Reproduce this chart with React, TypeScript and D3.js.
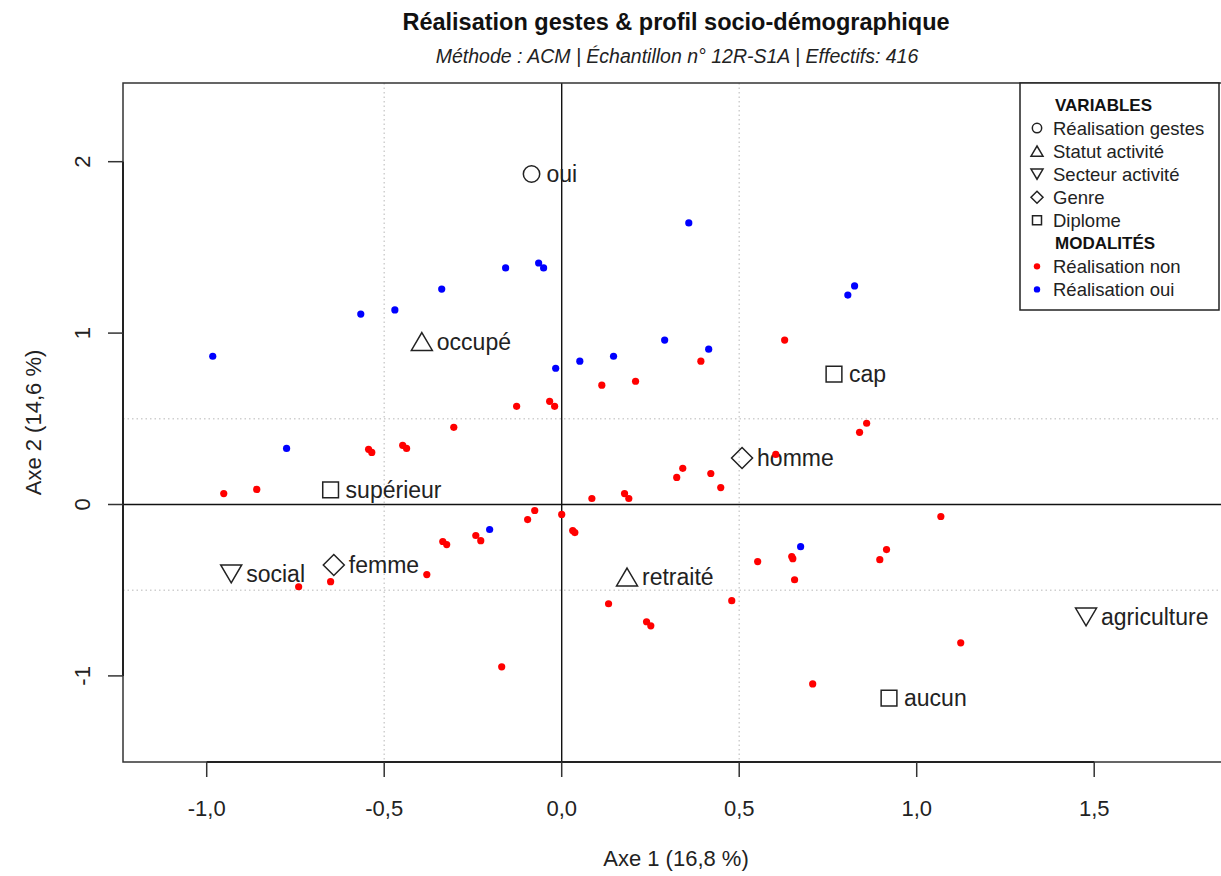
import React from "react";
import * as d3 from "d3";

// ---------- Data ----------
const title = "Réalisation gestes & profil socio-démographique";
const subtitle = "Méthode : ACM | Échantillon n° 12R-S1A | Effectifs: 416";
const xAxisTitle = "Axe 1 (16,8 %)";
const yAxisTitle = "Axe 2 (14,6 %)";

const xTicks = [-1.0, -0.5, 0.0, 0.5, 1.0, 1.5];
const yTicks = [-1, 0, 1, 2];
const xGrid = [-0.5, 0.5];
const yGrid = [-0.5, 0.5];

const variableNames = ["Réalisation gestes", "Statut activité", "Secteur activité", "Genre", "Diplome"];
const variableShapes = ["circle", "triangle", "triangleDown", "diamond", "square"];

const modalityLabels = ["oui", "occupé", "retraité", "social", "agriculture", "homme", "femme", "supérieur", "cap", "aucun"];
const modalityVariable = [0, 1, 1, 2, 2, 3, 3, 4, 4, 4];
const modalityX = [-0.085, -0.394, 0.184, -0.931, 1.477, 0.508, -0.642, -0.651, 0.767, 0.922];
const modalityY = [1.928, 0.951, -0.423, -0.405, -0.656, 0.271, -0.353, 0.085, 0.761, -1.129];

const pointsNon: [number, number][] = [
  [0.628, 0.959], [0.392, 0.836], [0.208, 0.719], [0.113, 0.696], [-0.034, 0.602],
  [-0.020, 0.573], [-0.127, 0.573], [-0.304, 0.450], [-0.448, 0.345], [-0.437, 0.327],
  [-0.544, 0.322], [-0.535, 0.304], [-0.952, 0.064], [-0.859, 0.088], [0.859, 0.474],
  [0.839, 0.421], [0.603, 0.292], [0.341, 0.211], [0.324, 0.158], [0.420, 0.181],
  [0.448, 0.099], [0.085, 0.035], [0.177, 0.064], [0.189, 0.035], [0.0, -0.058],
  [0.031, -0.152], [0.037, -0.164], [-0.076, -0.035], [-0.096, -0.088], [1.068, -0.070],
  [-0.335, -0.216], [-0.324, -0.234], [-0.242, -0.181], [-0.228, -0.211], [-0.380, -0.409],
  [-0.651, -0.450], [-0.741, -0.480], [-0.169, -0.947], [0.552, -0.333], [0.648, -0.304],
  [0.651, -0.316], [0.656, -0.439], [0.915, -0.263], [0.896, -0.322], [0.132, -0.579],
  [0.479, -0.561], [0.239, -0.684], [0.251, -0.708], [1.124, -0.807], [0.707, -1.047],
];

const pointsOui: [number, number][] = [
  [0.358, 1.643], [-0.158, 1.380], [-0.065, 1.409], [-0.051, 1.380], [-0.338, 1.257],
  [-0.470, 1.135], [-0.566, 1.111], [0.825, 1.275], [0.806, 1.222], [-0.983, 0.865],
  [0.290, 0.959], [0.414, 0.906], [0.146, 0.865], [0.051, 0.836], [-0.017, 0.795],
  [-0.775, 0.327], [-0.203, -0.146], [0.673, -0.246],
];

const legendModalities = ["Réalisation non", "Réalisation oui"];
const legendColors = ["#ff0000", "#0000ff"];

// ---------- Layout ----------
const W = 1221;
const H = 876;
const M = { left: 123, right: 1229, top: 83, bottom: 762 };
const FONT = "'Liberation Sans', Arial, Helvetica, sans-serif";
const INK = "#222";

const xScale = d3.scaleLinear().domain([-1.2358, 1.8797]).range([M.left, M.right]);
const yScale = d3.scaleLinear().domain([-1.5023, 2.4591]).range([M.bottom, M.top]);

function shapePath(shape: string, s: number): string {
  // s = half size
  switch (shape) {
    case "triangle": {
      const h = s * 1.7;
      return `M0,${-h / 2}L${s},${h / 2}L${-s},${h / 2}Z`;
    }
    case "triangleDown": {
      const h = s * 1.7;
      return `M0,${h / 2}L${s},${-h / 2}L${-s},${-h / 2}Z`;
    }
    case "diamond":
      return `M0,${-s}L${s},0L0,${s}L${-s},0Z`;
    case "square": {
      const q = s * 0.75;
      return `M${-q},${-q}L${q},${-q}L${q},${q}L${-q},${q}Z`;
    }
    default:
      return "";
  }
}

function Symbol({ shape, x, y, s }: { shape: string; x: number; y: number; s: number }) {
  if (shape === "circle") {
    return <circle cx={x} cy={y} r={s * 0.78} fill="none" stroke={INK} strokeWidth={1.5} />;
  }
  return (
    <path d={shapePath(shape, s)} transform={`translate(${x},${y})`} fill="none" stroke={INK} strokeWidth={1.5} strokeLinejoin="miter" />
  );
}

export default function App() {
  const legX = 1020;
  const legY = 83;
  const legW = 199;
  const legH = 227;
  const rowY = (i: number) => legY + 22 + i * 23.05;

  return (
    <div style={{ position: "absolute", left: 0, top: 0, width: W, height: H, background: "#fff" }}>
      <svg width={W} height={H} viewBox={`0 0 ${W} ${H}`} style={{ display: "block", fontFamily: FONT }}>
        <defs>
          <clipPath id="plotClip">
            <rect x={M.left} y={M.top} width={M.right - M.left} height={M.bottom - M.top} />
          </clipPath>
        </defs>
        <rect x={0} y={0} width={W} height={H} fill="#fff" />

        {/* Titles */}
        <text x={676} y={30} textAnchor="middle" fontSize={23.5} fontWeight="bold" fill="#111">{title}</text>
        <text x={677} y={63} textAnchor="middle" fontSize={19.5} fontStyle="italic" fill={INK}>{subtitle}</text>

        <g clipPath="url(#plotClip)">
          {/* dotted grid */}
          {xGrid.map((v) => (
            <line key={"gx" + v} x1={xScale(v)} x2={xScale(v)} y1={M.top} y2={M.bottom} stroke="#cfcfcf" strokeWidth={1.5} strokeDasharray="1.5 3" />
          ))}
          {yGrid.map((v) => (
            <line key={"gy" + v} x1={M.left} x2={M.right} y1={yScale(v)} y2={yScale(v)} stroke="#cfcfcf" strokeWidth={1.5} strokeDasharray="1.5 3" />
          ))}
          {/* zero lines */}
          <line x1={xScale(0)} x2={xScale(0)} y1={M.top} y2={M.bottom} stroke="#111" strokeWidth={1.4} />
          <line x1={M.left} x2={M.right} y1={yScale(0)} y2={yScale(0)} stroke="#111" strokeWidth={1.4} />

          {/* modality symbols and labels */}
          {modalityLabels.map((lab, i) => {
            const cx = xScale(modalityX[i]);
            const cy = yScale(modalityY[i]);
            const shape = variableShapes[modalityVariable[i]];
            return (
              <g key={lab}>
                <Symbol shape={shape} x={cx} y={cy} s={10.5} />
                <text x={cx + 15} y={cy} dy="0.36em" fontSize={23} fill={INK}>{lab}</text>
              </g>
            );
          })}

          {/* individuals */}
          {pointsNon.map((p, i) => (
            <circle key={"n" + i} cx={xScale(p[0])} cy={yScale(p[1])} r={3.6} fill={legendColors[0]} />
          ))}
          {pointsOui.map((p, i) => (
            <circle key={"o" + i} cx={xScale(p[0])} cy={yScale(p[1])} r={3.6} fill={legendColors[1]} />
          ))}
        </g>

        {/* frame */}
        <rect x={M.left} y={M.top} width={M.right - M.left} height={M.bottom - M.top} fill="none" stroke="#333" strokeWidth={1.5} />

        {/* x axis */}
        <line x1={xScale(xTicks[0])} x2={xScale(xTicks[xTicks.length - 1])} y1={M.bottom} y2={M.bottom} stroke="#222" strokeWidth={2} />
        {xTicks.map((t) => (
          <g key={"xt" + t}>
            <line x1={xScale(t)} x2={xScale(t)} y1={M.bottom} y2={M.bottom + 15} stroke="#333" strokeWidth={1.5} />
            <text x={xScale(t)} y={M.bottom + 46} dy="0.36em" textAnchor="middle" fontSize={22} fill={INK}>
              {d3.format(".1f")(t).replace(".", ",").replace("−", "-")}
            </text>
          </g>
        ))}

        {/* y axis */}
        <line x1={M.left} x2={M.left} y1={yScale(yTicks[0])} y2={yScale(yTicks[yTicks.length - 1])} stroke="#222" strokeWidth={2} />
        {yTicks.map((t) => (
          <g key={"yt" + t}>
            <line x1={M.left} x2={M.left - 15} y1={yScale(t)} y2={yScale(t)} stroke="#333" strokeWidth={1.5} />
            <text transform={`translate(${M.left - 41},${yScale(t)}) rotate(-90)`} dy="0.36em" textAnchor="middle" fontSize={22} fill={INK}>
              {String(t)}
            </text>
          </g>
        ))}

        {/* axis titles */}
        <text x={676} y={858} dy="0.36em" textAnchor="middle" fontSize={22} fill={INK}>{xAxisTitle}</text>
        <text transform={`translate(33,${(M.top + M.bottom) / 2}) rotate(-90)`} dy="0.36em" textAnchor="middle" fontSize={22} fill={INK}>{yAxisTitle}</text>

        {/* legend */}
        <rect x={legX} y={legY} width={legW} height={legH} fill="#fff" stroke="#222" strokeWidth={1.5} />
        <text x={1055} y={rowY(0)} dy="0.36em" fontSize={17} fontWeight="bold" fill="#111">VARIABLES</text>
        {variableNames.map((v, i) => (
          <g key={v}>
            <Symbol shape={variableShapes[i]} x={1037} y={rowY(i + 1)} s={6} />
            <text x={1053} y={rowY(i + 1)} dy="0.36em" fontSize={18.5} fill={INK}>{v}</text>
          </g>
        ))}
        <text x={1055} y={rowY(6)} dy="0.36em" fontSize={17} fontWeight="bold" fill="#111">MODALITÉS</text>
        {legendModalities.map((m, i) => (
          <g key={m}>
            <circle cx={1037} cy={rowY(7 + i)} r={3.2} fill={legendColors[i]} />
            <text x={1053} y={rowY(7 + i)} dy="0.36em" fontSize={18.5} fill={INK}>{m}</text>
          </g>
        ))}
      </svg>
    </div>
  );
}
